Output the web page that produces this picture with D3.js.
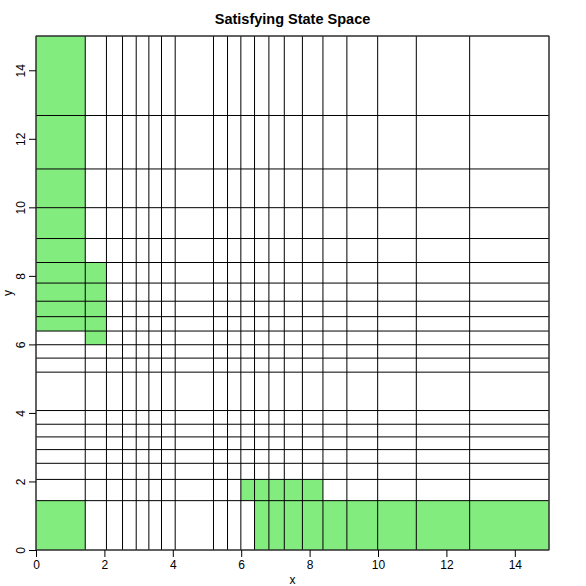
<!DOCTYPE html>
<html>
<head>
<meta charset="utf-8">
<script src="https://cdn.jsdelivr.net/npm/d3@7"></script>
<style>
  body { margin: 0; background: #fff; }
  svg { display: block; font-family: "Liberation Sans", Arial, sans-serif; }
</style>
</head>
<body>
<div id="chart"></div>
<script>
// grid break points (same for x and y)
const breaks = [0, 1.44, 2.06, 2.53, 2.93, 3.30, 3.67, 4.07, 5.19, 5.60, 5.99,
  6.39, 6.81, 7.26, 7.79, 8.39, 9.09, 9.99, 11.12, 12.68, 15];

// satisfying cells, as [x interval index, y interval index]
const satisfying = [
  [0, 0],
  [0, 11], [0, 12], [0, 13], [0, 14], [0, 15], [0, 16], [0, 17], [0, 18], [0, 19],
  [1, 10], [1, 11], [1, 12], [1, 13], [1, 14],
  [11, 0], [12, 0], [13, 0], [14, 0], [15, 0], [16, 0], [17, 0], [18, 0], [19, 0],
  [10, 1], [11, 1], [12, 1], [13, 1], [14, 1]
];

const xTicks = [0, 2, 4, 6, 8, 10, 12, 14];
const yTicks = [0, 2, 4, 6, 8, 10, 12, 14];
const title = "Satisfying State Space";

const width = 586, height = 586;
const margin = {top: 36, right: 37, bottom: 36, left: 36};

const svg = d3.select('#chart').append('svg')
  .attr('width', width)
  .attr('height', height);

const x = d3.scaleLinear().domain([0, 15]).range([margin.left, width - margin.right]);
const y = d3.scaleLinear().domain([0, 15]).range([height - margin.bottom, margin.top]);

// green cells
svg.append('g').selectAll('rect')
  .data(satisfying).enter()
  .append('rect')
  .attr('x', d => x(breaks[d[0]]))
  .attr('y', d => y(breaks[d[1] + 1]))
  .attr('width', d => x(breaks[d[0] + 1]) - x(breaks[d[0]]))
  .attr('height', d => y(breaks[d[1]]) - y(breaks[d[1] + 1]))
  .attr('fill', '#82ec7e');

// grid lines
const grid = svg.append('g').attr('stroke', '#000').attr('stroke-width', 1);
grid.selectAll('.vl').data(breaks).enter()
  .append('line').attr('class', 'vl')
  .attr('x1', d => x(d)).attr('x2', d => x(d))
  .attr('y1', y(0)).attr('y2', y(15));
grid.selectAll('.hl').data(breaks).enter()
  .append('line').attr('class', 'hl')
  .attr('y1', d => y(d)).attr('y2', d => y(d))
  .attr('x1', x(0)).attr('x2', x(15));

// box
svg.append('rect')
  .attr('x', x(0)).attr('y', y(15))
  .attr('width', x(15) - x(0)).attr('height', y(0) - y(15))
  .attr('fill', 'none').attr('stroke', '#444');

// axes
const xAxis = svg.append('g')
  .attr('transform', `translate(0,${y(0)})`)
  .call(d3.axisBottom(x).tickValues(xTicks).tickSize(7).tickSizeOuter(0).tickPadding(3));
xAxis.select('.domain').remove();
xAxis.selectAll('text').style('font-size', '12px').attr('fill', '#000');

const yAxis = svg.append('g')
  .attr('transform', `translate(${x(0)},0)`)
  .call(d3.axisLeft(y).tickValues(yTicks).tickSize(7).tickSizeOuter(0));
yAxis.select('.domain').remove();
yAxis.selectAll('text')
  .style('font-size', '12px')
  .attr('fill', '#000')
  .attr('x', null).attr('dy', null)
  .attr('text-anchor', 'middle')
  .attr('transform', 'translate(-10,0) rotate(-90)')
  .attr('dy', '-0.1em');

// title and axis labels
svg.append('text')
  .attr('x', (x(0) + x(15)) / 2).attr('y', 24)
  .attr('text-anchor', 'middle')
  .style('font-size', '14.5px').style('font-weight', 'bold')
  .text(title);

svg.append('text')
  .attr('x', (x(0) + x(15)) / 2).attr('y', 584)
  .attr('text-anchor', 'middle')
  .style('font-size', '12px')
  .text('x');

svg.append('text')
  .attr('transform', `translate(12,${(y(0) + y(15)) / 2}) rotate(-90)`)
  .attr('text-anchor', 'middle')
  .style('font-size', '12px')
  .text('y');
</script>
</body>
</html>
